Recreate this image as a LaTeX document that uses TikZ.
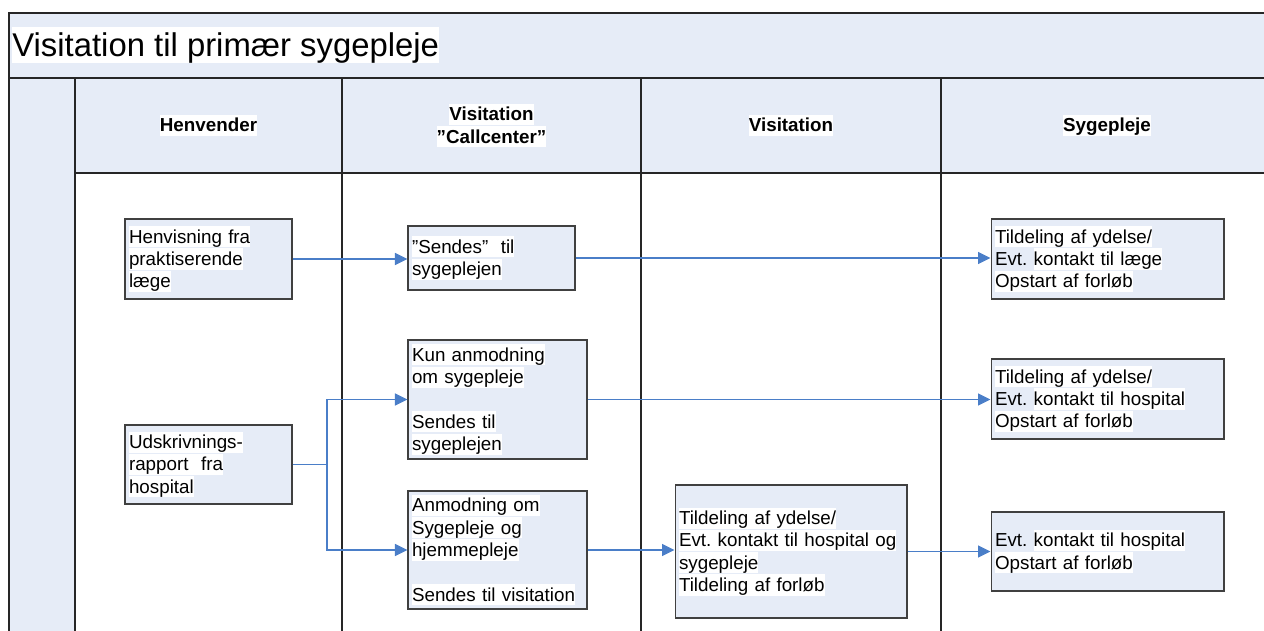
\documentclass[tikz,border=0pt]{standalone}
\usepackage{fontspec}
\setmainfont{Liberation Sans}
\usepackage{tikz}
\usetikzlibrary{arrows.meta,positioning}

\definecolor{laneblue}{HTML}{E6ECF7}
\definecolor{flowblue}{HTML}{4A7EC8}
\definecolor{boxgray}{HTML}{404040}
\newcommand{\hl}[1]{{\setlength{\fboxsep}{0pt}\colorbox{white}{\vrule height 0.9em depth 0.22em width 0pt#1}}}
\frenchspacing

\begin{document}
\begin{tikzpicture}[x=0.02cm, y=-0.02cm]
	\tikzstyle{process} = [rectangle, draw=boxgray, line width=0.6pt, fill=laneblue, 
	inner xsep=0.08cm, inner ysep=0pt, align=left, font=\fontsize{10.7}{12.7}\selectfont]
	\tikzstyle{lane} = [align=center, inner sep=0pt, font=\fontsize{10.7}{12.7}\selectfont\bfseries]
	\tikzstyle{grid} = [draw=black!85, line width=0.8pt]
	\tikzstyle{arrow} = [draw=flowblue, line width=0.6pt, -{Triangle[length=0.25cm, width=0.24cm]}]
	\useasboundingbox (0,0) rectangle (1264,631);
	% swimlane frame
	\fill[laneblue] (9,13) rectangle (1264,78);
	\fill[laneblue] (75,78) rectangle (1264,173);
	\fill[laneblue] (9,78) rectangle (75,631);
	\draw[grid] (1264,13) -- (9,13) -- (9,631);
	\draw[grid] (9,78) -- (1264,78);
	\draw[grid] (75,78) -- (75,631);
	\draw[grid] (75,173) -- (1264,173);
	\draw[grid] (342,78) -- (342,631);
	\draw[grid] (641,78) -- (641,631);
	\draw[grid] (941,78) -- (941,631);
	\node (title) [anchor=west, inner sep=0pt, font=\fontsize{18.7}{22}\selectfont] at (12,45) {\hl{Visitation til primær sygepleje}};
	\node (henvender) [lane] at (208.5,125.5) {\hl{Henvender}};
	\node (callcenter) [lane] at (491.5,125.5) {\hl{Visitation}\\\hl{”Callcenter”}};
	\node (visitation) [lane] at (791,125.5) {\hl{Visitation}};
	\node (sygepleje) [lane] at (1107,125.5) {\hl{Sygepleje}};
	% boxes
	\node (henvisning) [process, text width=3.18cm, minimum height=1.6cm] at (208.5,259) {\hl{Henvisning fra}\\\hl{praktiserende}\\\hl{læge}};
	\node (udskrivning) [process, text width=3.18cm, minimum height=1.58cm] at (208.5,464.5) {\hl{Udskrivnings-}\\\hl{rapport\ \ fra}\\\hl{hospital}};
	\node (sendes) [process, text width=3.18cm, minimum height=1.28cm] at (491.5,258) {\hl{”Sendes”\ \ til}\\\hl{sygeplejen}};
	\node (kunAnmodning) [process, text width=3.42cm, minimum height=2.38cm] at (497.5,399.5) {\hl{Kun anmodning}\\\hl{om sygepleje}\\[12.7pt]\hl{Sendes til}\\\hl{sygeplejen}};
	\node (anmodning) [process, text width=3.42cm, minimum height=2.36cm] at (497.5,550) {\hl{Anmodning om}\\\hl{Sygepleje og}\\\hl{hjemmepleje}\\[12.7pt]\hl{Sendes til visitation}};
	\node (tildeling) [process, text width=4.48cm, minimum height=2.66cm] at (791,551.5) {\hl{Tildeling af ydelse/}\\\hl{Evt. kontakt til hospital og}\\\hl{sygepleje}\\\hl{Tildeling af forløb}};
	\node (sygeplejeA) [process, text width=4.5cm, minimum height=1.6cm] at (1107.5,259) {\hl{Tildeling af ydelse/}\\Evt. \hl{kontakt til læge}\\\hl{Opstart af forløb}};
	\node (sygeplejeB) [process, text width=4.5cm, minimum height=1.6cm] at (1107.5,399) {\hl{Tildeling af ydelse/}\\Evt. \hl{kontakt til hospital}\\\hl{Opstart af forløb}};
	\node (sygeplejeC) [process, text width=4.5cm, minimum height=1.58cm] at (1107.5,551.5) {Evt. \hl{kontakt til hospital}\\\hl{Opstart af forløb}};
	\coordinate (split) at (327,464.5);
	% connectors
	\draw [arrow] (henvisning.east) -- (henvisning.east -| sendes.west);
	\draw [arrow] (sendes.east) -- (sendes.east -| sygeplejeA.west);
	\draw [arrow] (udskrivning.east) -- (split) |- (kunAnmodning.west);
	\draw [arrow] (split) |- (anmodning.west);
	\draw [arrow] (kunAnmodning.east) -- (kunAnmodning.east -| sygeplejeB.west);
	\draw [arrow] (anmodning.east) -- (anmodning.east -| tildeling.west);
	\draw [arrow] (tildeling.east) -- (tildeling.east -| sygeplejeC.west);
\end{tikzpicture}
\end{document}
